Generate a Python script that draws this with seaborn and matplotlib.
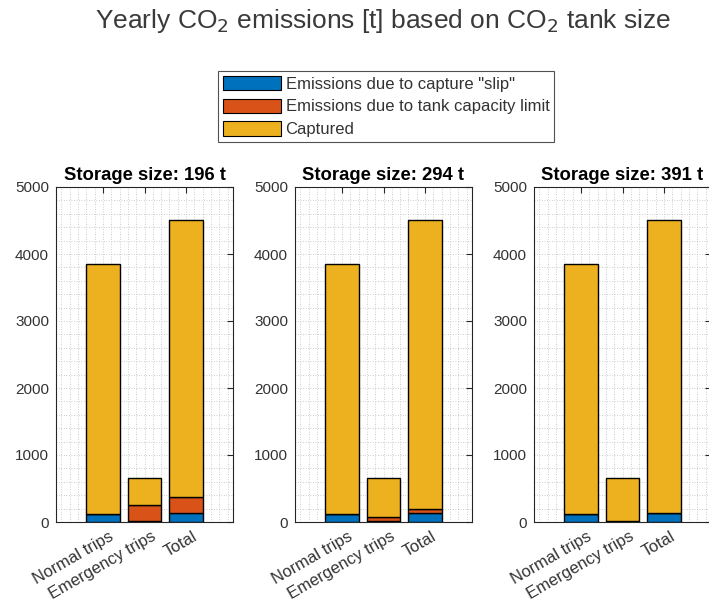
import numpy as np
import pandas as pd
import matplotlib
matplotlib.use("Agg")
import matplotlib.pyplot as plt
import seaborn as sns
from matplotlib.patches import Patch
from matplotlib.ticker import MultipleLocator, FixedLocator
from matplotlib.transforms import ScaledTranslation

# --- data -------------------------------------------------------------
categories = ["Normal trips", "Emergency trips", "Total"]
storage_sizes = [196, 294, 391]

# emissions per storage size [t]
slip_196 = [120, 15, 135]
tank_196 = [0, 245, 245]
captured_196 = [3730, 400, 4130]

slip_294 = [120, 15, 135]
tank_294 = [0, 55, 55]
captured_294 = [3730, 590, 4320]

slip_391 = [120, 15, 135]
tank_391 = [0, 0, 0]
captured_391 = [3730, 645, 4375]

series_labels = ['Emissions due to capture "slip"',
                 "Emissions due to tank capacity limit",
                 "Captured"]
colors = ["#0072BD", "#D95319", "#EDB120"]

panels = [
    (storage_sizes[0], slip_196, tank_196, captured_196),
    (storage_sizes[1], slip_294, tank_294, captured_294),
    (storage_sizes[2], slip_391, tank_391, captured_391),
]

# --- style ------------------------------------------------------------
sns.set_theme(style="white")
plt.rcParams["font.family"] = ["Liberation Sans", "DejaVu Sans"]
text_col = "#333333"
axis_col = "#262626"

W, H = 709, 603
fig = plt.figure(figsize=(W / 100, H / 100), dpi=100)

ax_bottom = (H - 522) / H
ax_height = (522 - 187) / H
ax_width = 177 / W
ax_lefts = [56 / W, 295 / W, 534 / W]

for left, (size, slip, tank, captured) in zip(ax_lefts, panels):
    ax = fig.add_axes([left, ax_bottom, ax_width, ax_height])
    df = pd.DataFrame({"category": categories, "slip": slip,
                       "tank": tank, "captured": captured})
    base = np.zeros(len(categories))
    for col, color in zip(["slip", "tank", "captured"], colors):
        sns.barplot(data=df, x="category", y=col, ax=ax, color=color,
                    width=0.8, bottom=base.copy(), edgecolor="black",
                    linewidth=1.0, saturation=1, zorder=3)
        base = base + df[col].to_numpy()

    ax.set_xlim(-1.13, 3.13)
    ax.set_ylim(0, 5000)
    ax.set_xlabel("")
    ax.set_ylabel("")
    ax.yaxis.set_major_locator(FixedLocator([0, 1000, 2000, 3000, 4000, 5000]))
    ax.yaxis.set_minor_locator(MultipleLocator(200))
    ax.xaxis.set_minor_locator(FixedLocator(np.arange(-1.0, 3.2, 0.2)))
    ax.grid(which="minor", axis="both", color="#bdbdbd", linestyle=(0, (1, 2)),
            linewidth=0.6, zorder=0)
    ax.grid(which="major", axis="both", color="#bdbdbd", linestyle=(0, (1, 2)),
            linewidth=0.6, zorder=0)
    ax.set_axisbelow(True)

    ax.tick_params(axis="both", which="major", direction="in", length=4,
                   width=0.8, color=axis_col, top=True, right=True,
                   labelsize=11, labelcolor=text_col, pad=5)
    ax.tick_params(axis="both", which="minor", length=0)
    ax.set_yticklabels(["0", "1000", "2000", "3000", "4000", "5000"])
    ax.set_xticks(range(len(categories)))
    ax.set_xticklabels(categories, rotation=30, ha="right",
                       rotation_mode="anchor", fontsize=12)
    shift = ScaledTranslation(6 / 100, 0, fig.dpi_scale_trans)
    for lbl in ax.get_xticklabels():
        lbl.set_transform(lbl.get_transform() + shift)
    for sp in ax.spines.values():
        sp.set_color(axis_col)
        sp.set_linewidth(0.8)
        sp.set_visible(True)

    ax.set_title(f"Storage size: {size} t", fontsize=13.3, fontweight="bold",
                 color="black", pad=5)

fig.suptitle("Yearly CO$_2$ emissions [t] based on CO$_2$ tank size",
             x=383 / W, y=1 - 7 / H, va="top", fontsize=19, color="#3a3a3a")

handles = [Patch(facecolor=c, edgecolor="black", linewidth=0.8) for c in colors]
leg = fig.legend(handles, series_labels, loc="upper left",
                 bbox_to_anchor=(218 / W, 1 - 71 / H), borderaxespad=0,
                 fontsize=12, frameon=True, fancybox=False,
                 handlelength=3.5, handleheight=0.95, handletextpad=0.25,
                 labelspacing=0.4, borderpad=0.3)
leg.get_frame().set_edgecolor("#262626")
leg.get_frame().set_linewidth(0.8)
for t in leg.get_texts():
    t.set_color(text_col)

fig.savefig("out.png", dpi=100)
